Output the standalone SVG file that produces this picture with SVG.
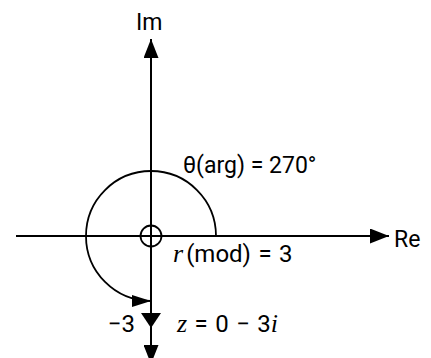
<svg xmlns="http://www.w3.org/2000/svg" width="431" height="358" viewBox="0 0 431 358">
<defs>
<style>
.ax{stroke:#000;stroke-width:2;fill:none}
.arc{stroke:#000;stroke-width:1.8;fill:none}
.t{font-family:Roboto,"Liberation Sans",sans-serif;font-size:23px;fill:#000}
.b{font-size:24px;word-spacing:1.5px}
.i{font-family:"Liberation Serif",serif;font-style:italic;font-size:26px}
</style>
<marker id="ah" viewBox="0 0 19 15" refX="19" refY="7.5" markerWidth="19" markerHeight="15" markerUnits="userSpaceOnUse" orient="auto">
<path d="M0,0 L19,7.5 L0,15 Z" fill="#000"/>
</marker>
<marker id="ah2" viewBox="0 0 19 12" refX="19" refY="6" markerWidth="19" markerHeight="12" markerUnits="userSpaceOnUse" orient="auto">
<path d="M0,0 L19,6 L0,12 Z" fill="#000"/>
</marker>
</defs>
<g id="connectors">
<line class="ax" x1="16" y1="236" x2="389" y2="236" marker-end="url(#ah)"/>
<line class="ax" x1="151" y1="236" x2="151" y2="39" marker-end="url(#ah)"/>
<line class="ax" x1="151" y1="236" x2="151" y2="364" marker-end="url(#ah)"/>
<polygon points="141,313 161,313 151,328" fill="#000"/>
<path class="arc" d="M216,236 A65,65 0 1 0 151,301" marker-end="url(#ah2)"/>
<circle cx="151" cy="236" r="10.5" fill="none" stroke="#000" stroke-width="1.8"/>
</g>
<g id="labels">
<text class="t" x="136" y="30">Im</text>
<text class="t" x="394" y="247">Re</text>
<text class="t" x="183" y="173">θ(arg) = 270°</text>
<text class="t b" x="173" y="262"><tspan class="i">r</tspan><tspan dx="3">(mod) = 3</tspan></text>
<text class="t b" x="135" y="332" text-anchor="end">−3</text>
<text class="t b" x="177" y="332"><tspan class="i">z</tspan> = 0 − 3<tspan class="i">i</tspan></text>
</g>
</svg>
